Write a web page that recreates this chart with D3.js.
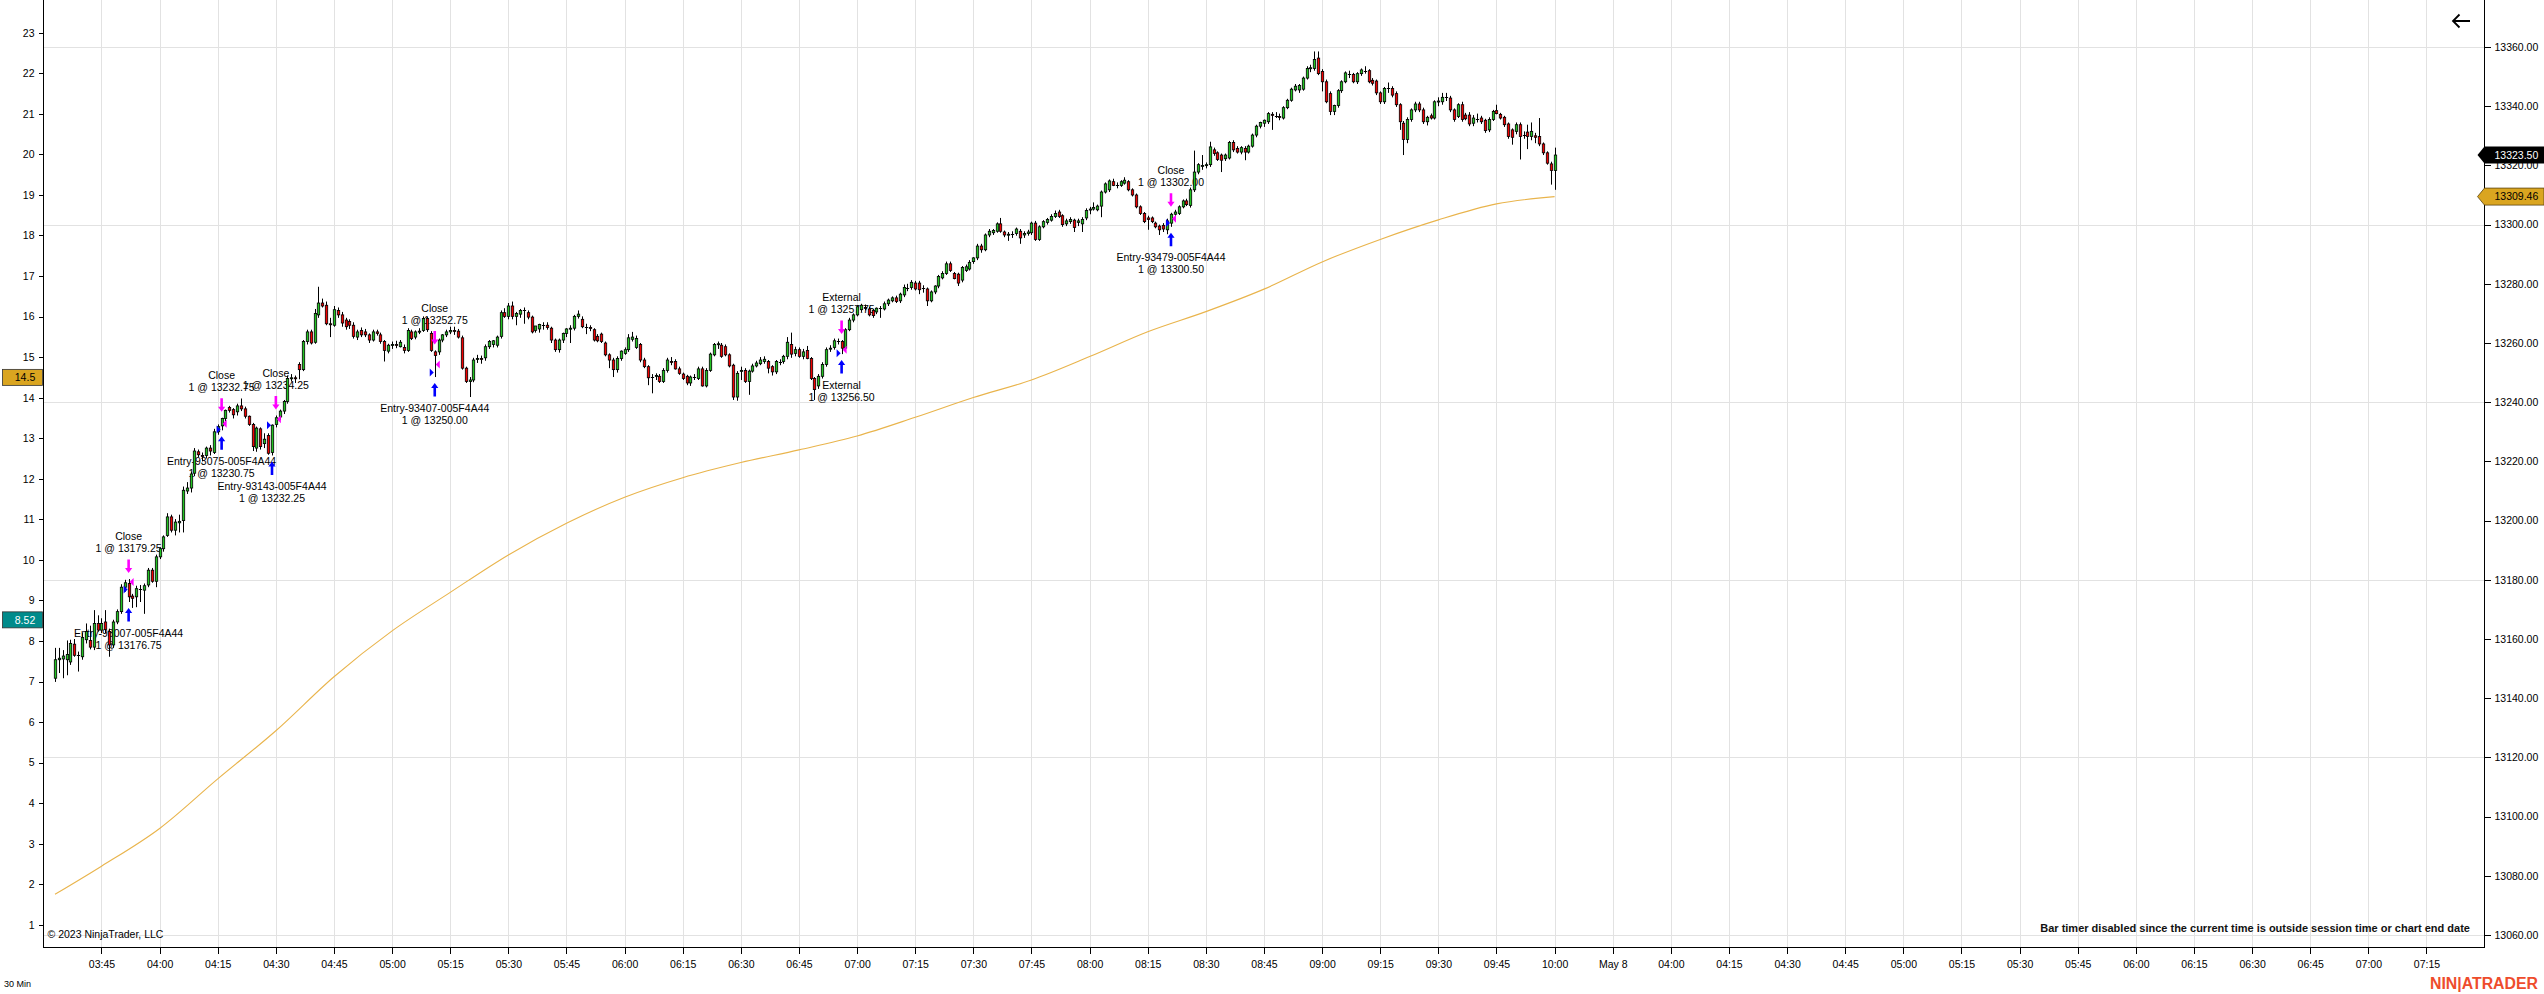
<!DOCTYPE html>
<html>
<head>
<meta charset="utf-8">
<script src="https://cdn.jsdelivr.net/npm/d3@7"></script>
<style>
  body { margin: 0; background: #fff; }
  svg { display: block; }
  text { font-family: "Liberation Sans", Arial, sans-serif; }
</style>
</head>
<body>
<svg id="chart" width="2544" height="994"></svg>
<script>
// ---- 1 minute bars, 03:33 .. 10:00 (one row = 15 bars) ----
const opens = [
  13146.75,13153,13153.25,13153,13152.25,13158.25,13154.5,13154,13159.75,13159.5,13157.25,13165.25,
  13163,13165.75,13162.5,13158,13165.75,13169.25,13177.5,13178.75,13174.5,13174.25,13177,13176.5,13178.25,13183.25,13179.5,
  13187.75,13190.5,13195,13201.25,13196.75,13199.25,13200,13210,13211,13216,13223.25,13222,13222,13224.5,13223,
  13230,13232,13234.5,13238.25,13237.5,13236.75,13238.75,13237.75,13235.25,13232.5,13224.5,13231,13226,13228.75,13223,
  13232.5,13235,13237,13240.25,13248,13248.25,13252.75,13251,13260.5,13263.75,13260.25,13269.5,13273.5,13272.75,13266.5,
  13266,13271,13269.5,13267.75,13267.25,13266,13262,13264.25,13263.75,13262.75,13261,13263.75,13262.75,13260.5,13257.25,
  13259.25,13259.5,13258.75,13258.5,13257.5,13263.75,13262,13263.75,13264.25,13268.25,13263.25,13257,13257,13261,13262.75,
  13263.75,13264.25,13264,13261.75,13251.5,13247,13247.5,13254.5,13254.75,13255,13258.75,13259.5,13259.25,13262.25,13270.25,
  13269,13272.5,13269,13269.75,13271,13270.25,13268.75,13264.25,13264.75,13266,13266,13265,13261,13257.75,13261,
  13263.25,13264.75,13265,13269,13268,13265.5,13265.25,13264.5,13262.25,13263,13260,13256,13254.25,13251,13254.75,
  13256.5,13257.75,13261.25,13258.5,13259.5,13254.25,13252,13248.5,13248.75,13248.75,13247,13250.75,13253.75,13253.75,13251.25,
  13249.5,13248.75,13246.5,13248.5,13248,13251.25,13245.5,13250.75,13256,13259.5,13259.25,13258.75,13256,13252.5,13241.75,
  13250.5,13250.75,13247,13250.5,13252.25,13253,13253.75,13253.75,13252,13250.25,13253.75,13253.75,13255.5,13259.5,13256.5,
  13257.75,13255.5,13257.5,13254.75,13248,13245.5,13248.75,13252.75,13258,13258.5,13260.75,13260.5,13258.25,13264.5,13267.75,
  13269.5,13271.25,13272,13271.5,13271,13270.5,13271.75,13271.5,13273.25,13274.25,13275.25,13274.25,13276.25,13278.75,13278.75,
  13280.25,13280.25,13278.5,13278.25,13274.25,13277.25,13279.25,13282,13283.5,13286.75,13283.5,13283.25,13281.25,13284.5,13285,
  13287.5,13288.75,13292.75,13291.5,13296.5,13297.25,13297.75,13300.25,13297.5,13296.5,13296.75,13297,13297.75,13296.5,13297,
  13297.25,13300.5,13295,13299.25,13300.75,13301.5,13302.75,13304.25,13303,13300.25,13301,13301.5,13300.75,13300.25,13302.25,
  13305,13305.25,13305,13306.25,13311,13311.75,13314.5,13313.5,13313.25,13314,13314.5,13311.75,13310,13306,13303.75,
  13302.25,13302.25,13300.5,13299.5,13299.75,13298.25,13300.5,13303.5,13303.75,13306,13308,13306.5,13311.75,13317.75,13319.75,
  13320,13320.25,13325.25,13324.25,13323.5,13322.25,13322.5,13327.75,13325.75,13324.5,13325.75,13324.5,13326.5,13330.25,13333.25,
  13334.25,13334.75,13337.25,13336.75,13336.5,13336,13339.5,13342,13345.5,13345.5,13345.75,13349.5,13352.75,13352.75,13356.25,
  13351.75,13348.25,13344.25,13338.25,13340.25,13345.25,13348.25,13351,13350.75,13348.25,13351,13352,13352,13348.75,13348.5,
  13344.5,13341.5,13346,13346,13344.25,13340.5,13334.25,13328.75,13335.5,13338.75,13340.75,13338.75,13334.75,13336.75,13336,
  13341.5,13341.5,13343,13342.75,13338.75,13336.5,13340.5,13337,13337,13334.25,13335.75,13336,13335.25,13332,13335.5,
  13338.5,13337.25,13336.25,13334,13332,13331.5,13333.75,13330.25,13331.25,13329.75,13330,13329.75,13327.25,13324.25,13320.5,
  13318.25
];
const highs = [
  13157,13157,13156.25,13159.5,13159.75,13160,13155.75,13162,13165.25,13164.5,13169.75,13168,
  13167,13169.75,13163.5,13166.5,13170,13178.5,13180,13180.25,13175.25,13178,13178.25,13178.75,13184,13184,13188.5,
  13191,13195,13202.5,13202,13200.5,13202,13211.5,13213,13216.5,13224.5,13224,13223,13225,13225.5,13231,
  13232.5,13234.75,13237.5,13238.75,13238,13239.5,13241.25,13238.5,13235.5,13233,13231.75,13231.5,13229.5,13229.5,13232.5,
  13235.5,13237.5,13240.75,13249,13249.5,13249,13253.5,13261,13264.5,13264.5,13271.5,13279,13275,13274,13268.5,
  13272.5,13272,13270.5,13268.5,13268,13267,13264.5,13265.25,13264.75,13263.25,13264.5,13264.5,13263.5,13261,13259.75,
  13260.5,13260.75,13261,13259.5,13265,13264.5,13264.25,13265,13269,13268.75,13264,13257.5,13261.5,13263,13264.5,
  13265.5,13265.5,13264.75,13262.5,13252,13248.5,13255,13256,13255.75,13259.5,13261,13261,13262.5,13271,13271.75,
  13273.5,13274,13270.5,13271.5,13272,13271,13269.25,13265.75,13266.5,13267,13267,13265.5,13261.5,13261.5,13263.5,
  13265,13266,13269.5,13271,13269,13266.5,13266,13265,13263,13263.5,13260.5,13256.5,13255,13255.5,13257.5,
  13258.5,13263,13263.75,13262.5,13260,13255,13252.5,13249.5,13249.75,13249.5,13251.5,13255,13255.25,13254.5,13252,
  13250,13249.25,13249,13249.5,13252,13252,13251.5,13256.75,13260,13260.5,13260,13259.5,13256.5,13253,13250.5,
  13252,13251.5,13251,13253,13254,13255.25,13255.5,13254.25,13252.5,13254.25,13254.5,13256,13262,13263.5,13258.75,
  13258.5,13258,13259,13255.25,13248.5,13249.5,13253.5,13258.5,13259.25,13261.5,13261.5,13261,13265,13268.5,13270,
  13272.75,13273.25,13273,13272.25,13271.5,13272,13272.5,13274,13275,13275.75,13276,13277,13279.75,13280,13281.25,
  13281,13281,13279.5,13278.75,13277.75,13279.5,13283,13284.25,13287.5,13287.5,13284,13283.75,13286,13286.5,13288,
  13289,13293.5,13293.5,13297,13298.5,13298.5,13300.75,13302.25,13298,13297.5,13297.75,13299,13298.5,13297.75,13298.25,
  13301,13301.25,13299.75,13301.5,13302.25,13303.5,13304.75,13305,13303.5,13302,13302.5,13302,13302,13302.5,13305.5,
  13306,13307.5,13306.75,13311.5,13314.25,13315.25,13315.5,13314.25,13315,13316,13315,13312.25,13310.5,13306.5,13304.25,
  13303,13302.75,13301,13300,13300.5,13302,13304,13305,13306.5,13308.5,13308.75,13312.5,13325,13320.75,13323.5,
  13321,13328,13326,13324.75,13324,13324,13328.25,13328.5,13326.5,13326.5,13326.5,13327,13330.75,13333.75,13334.75,
  13335.5,13338,13338,13338,13337.5,13340,13342.5,13346.25,13347.5,13347.5,13350,13353.5,13354,13358.5,13358.5,
  13352.5,13349,13345,13340.5,13345.75,13348.75,13351.75,13352,13351.25,13351.5,13352.75,13353.5,13352.5,13349.5,13349,
  13345,13346.5,13348,13346.75,13345,13341,13335,13336.25,13339.25,13341.5,13341.5,13339.5,13336.75,13337.5,13342,
  13343,13344.5,13344.5,13343.5,13339.25,13341,13341.5,13337.75,13338,13337,13337.5,13336.75,13335.75,13336.25,13338.75,
  13340.5,13337.75,13336.75,13334.5,13332.5,13334.5,13334.5,13331.5,13333.75,13334.5,13331,13336,13327.75,13324.75,13321.25,
  13326
];
const lows = [
  13145.5,13148.5,13146.75,13147.75,13151.25,13154,13149,13153,13158.5,13156.5,13156.25,13162.5,
  13162,13162,13154,13157,13165,13168.5,13176,13172.5,13170.5,13170.75,13172.5,13168.5,13177.5,13179,13177.5,
  13187,13189.5,13194.5,13196,13195,13196,13196,13209,13209.5,13215,13221.5,13220,13221,13222,13222.5,
  13229,13230.5,13233.5,13236.5,13234.5,13235.5,13237,13234.5,13232,13223.5,13223.25,13224,13224.5,13222.25,13222,
  13231.5,13234,13236,13239.5,13247,13246.5,13247.75,13250.5,13259.5,13259.5,13259.75,13268.5,13272,13266,13262,
  13265.5,13268.5,13265.5,13264.5,13264.75,13261.5,13261,13262,13262,13260,13260.5,13262.5,13259.75,13253.75,13256.5,
  13258,13258.25,13258.5,13256.5,13257,13261,13261.25,13263,13263.75,13263.75,13257,13248.5,13256,13260.25,13262,
  13263,13262.75,13261.5,13251,13246.5,13241.75,13246.75,13253.25,13253,13254,13258,13258.5,13258.5,13261.5,13268.5,
  13268,13268,13266,13268.5,13266.5,13268,13263.25,13263.5,13263.5,13264.5,13264.5,13260,13257,13256.75,13260,
  13262,13260,13264.25,13268.25,13265,13263,13264,13260.5,13260.25,13260,13255.5,13251.5,13248.5,13250,13254,
  13256,13257,13260.5,13258,13253.5,13251.5,13245.75,13243,13247.5,13246.5,13246.5,13250,13252.5,13251,13249.25,
  13247.5,13245.75,13245.5,13247.5,13247.5,13245.25,13245,13250.25,13255.5,13258,13255,13255.5,13251.75,13240.75,13240.5,
  13247.5,13246.5,13242.5,13250,13251.75,13252.5,13253,13249.75,13249,13249.5,13252.5,13253,13254.5,13255,13255.5,
  13255,13254.5,13254.5,13247.5,13240.75,13244.5,13248,13252,13257,13257.75,13259.5,13256.25,13257.75,13264,13267,
  13269,13270.5,13271,13269,13268.5,13269.75,13268.5,13271,13272.5,13273.75,13273.5,13273.5,13275.5,13277.5,13278,
  13277.75,13276.5,13277,13272.5,13273.75,13276.5,13278.5,13281.5,13283,13284,13281.5,13279.25,13280.5,13284,13284.5,
  13286.75,13288,13290.5,13291,13295.75,13296.5,13297.25,13297.25,13295.75,13294.5,13295.5,13296.25,13293.5,13295.5,13296.25,
  13296.5,13294.5,13294.5,13298.75,13300,13301,13302.25,13302.25,13299.25,13299.5,13300.25,13297.5,13299.5,13297.5,13301.5,
  13303.5,13304.75,13304.5,13302.5,13310.5,13311,13313,13312.25,13312.75,13313.5,13311.25,13309.5,13305.5,13303.25,13300.5,
  13298.25,13300.5,13298.75,13296.5,13297.5,13296.75,13299.25,13302,13303.25,13305.5,13306.25,13305.75,13311,13317,13318.5,
  13319,13319.5,13323.25,13321.5,13317.75,13321.5,13322,13324.5,13324,13323.75,13321.75,13324,13326,13329.5,13332.5,
  13333,13334,13332,13336,13335.25,13335.5,13339,13341.5,13345,13344.5,13345.25,13349,13351.5,13352,13350.5,
  13345,13341,13337,13337,13339.5,13344.5,13347.75,13349.5,13347.75,13347.5,13350.25,13351,13347.75,13347,13343.75,
  13340.75,13340.75,13344.5,13343,13339.75,13332,13323.5,13327.5,13334.75,13338,13338,13334,13333.5,13335.5,13335.5,
  13340,13340.5,13341.75,13338,13334.75,13336,13334.75,13335.25,13333.25,13333.25,13334.5,13334,13331,13331.25,13335,
  13337.25,13335.5,13333,13329,13327,13330.5,13322,13329,13325.5,13328.5,13327.5,13326.5,13323.5,13320.25,13313.5,
  13311.75
];
const closes = [
  13153,13153.5,13154.25,13154.75,13158.5,13154.5,13154.5,13160.5,13162.5,13157.25,13165.25,13163,
  13165.25,13163.25,13158,13165.75,13169.25,13177.5,13179,13174.25,13173.75,13177,13177,13178,13183.25,13179.5,13187.75,
  13190.5,13194.5,13201.25,13196.75,13199.5,13199.75,13210.25,13211,13215.75,13223.5,13222.25,13221.75,13224.5,13223.5,13230,
  13231.75,13234.5,13237.25,13237.25,13235.75,13238.75,13237.75,13235.25,13232.5,13225,13231.25,13225,13227.5,13222.75,13232.25,
  13234.75,13237,13240.25,13248,13248.25,13248,13251,13260.5,13263.75,13260,13270,13273.5,13272.5,13266.5,13266.25,
  13271.25,13269.5,13266.75,13265.5,13266,13262.25,13263.75,13262.75,13262.75,13261,13263.75,13263.25,13260.5,13257.5,13259.25,
  13259.5,13259.25,13260.25,13257.5,13264.25,13261.5,13263.75,13264,13268.25,13264.5,13257.5,13255.75,13261,13262.75,13263.75,
  13264.25,13264,13262,13251.5,13247,13247.5,13254.25,13254.75,13254.5,13258.75,13260.5,13260.75,13262,13270.25,13269,
  13272.5,13269,13270,13271,13271,13268.75,13263.75,13265.75,13266.25,13266,13265.25,13261,13257.75,13261,13263.25,
  13264.75,13265,13269,13269.75,13265.5,13265.5,13265,13261,13260.75,13260.5,13256,13254.25,13251,13254.75,13257.25,
  13257.75,13261.75,13262,13261.5,13254.25,13252,13248.25,13248.5,13249,13247,13250.75,13254.25,13253.5,13251.25,13249.75,
  13248,13246.5,13248.5,13248.5,13251.25,13245.5,13250.75,13256.25,13259.5,13259.75,13255.5,13256,13252.25,13241.75,13249.75,
  13250.75,13247,13250.5,13252.25,13253.25,13254.25,13254.5,13251.5,13250.25,13253.75,13253.75,13255.5,13260.25,13256.25,13257.75,
  13255.5,13257,13254.75,13248,13244.25,13248.75,13252.75,13257.75,13258.25,13260.75,13260.75,13258.25,13264.5,13267.75,13269.5,
  13272.25,13272.75,13271.75,13269.5,13269.25,13271.75,13271.75,13273.25,13274.5,13275.25,13274,13276.5,13278.75,13278.75,13280.5,
  13278.25,13278,13278.5,13274.25,13277.25,13279.25,13282.5,13283.5,13286.75,13284.5,13281.75,13280.25,13285.5,13285.75,13287.25,
  13288.75,13292.75,13291.5,13296.5,13297.75,13298,13300.25,13297.75,13296.5,13296.75,13296.75,13298.5,13295.5,13297,13297.5,
  13300.5,13295,13299.25,13301,13301.75,13302.75,13303.75,13302.75,13300,13301.25,13301.75,13299,13301.25,13301.75,13304.75,
  13305.25,13305.75,13306.25,13311,13313.75,13314.75,13313.25,13313.5,13314.5,13315,13311.75,13310,13306,13303.75,13301,
  13301.75,13301,13299.25,13298.25,13298.5,13301.25,13303.5,13304.25,13306,13308,13306.75,13311.75,13317.75,13320.25,13320,
  13320.25,13326.25,13324,13322,13321.75,13323.5,13327.75,13325.25,13324.5,13326,13324.5,13326.5,13330.25,13333.25,13334.5,
  13335.25,13337.5,13337,13336.75,13336.25,13339.5,13342,13345.75,13346.75,13347,13349.5,13352.75,13353,13355.75,13351,
  13348.25,13341.5,13338.25,13340.25,13345.25,13348.25,13351.25,13351,13348.25,13351,13352.25,13352,13348.25,13347.75,13344.5,
  13341.5,13346,13346,13343.75,13340.5,13334.75,13328.75,13335.5,13338.75,13340.75,13338.75,13334.75,13336.25,13336,13341.5,
  13341.75,13343,13343,13338.75,13335.5,13340.5,13335.5,13335.75,13334,13336,13335.75,13334.75,13331.75,13335.5,13338.25,
  13337.5,13336,13333.75,13329.75,13329.5,13333.75,13329.75,13330.25,13329.75,13331.5,13329.5,13327.25,13324.25,13320.75,13318.25,
  13323.5
];

// ---- moving average (bar slot -> value) ----
const emaSlots  = [0, 12, 27, 42, 57, 72, 87, 102, 117, 132, 147, 162, 177, 192, 207, 222, 237, 252, 267, 282, 297, 312, 327, 342, 357, 372, 387];
const emaValues = [13073.75, 13083.25, 13096, 13112.75, 13129, 13147.25, 13162.75, 13175.75, 13188.4, 13199.1, 13207.9, 13214.5, 13219.6,
                   13223.9, 13228.6, 13234.9, 13241.6, 13247.5, 13255.4, 13263.8, 13270.6, 13278.2, 13287.4, 13295, 13301.6, 13307, 13309.46];

// ---- time axis labels (every 15 slots, first at slot 12) ----
const timeLabels = ["03:45","04:00","04:15","04:30","04:45","05:00","05:15","05:30","05:45","06:00","06:15","06:30","06:45",
  "07:00","07:15","07:30","07:45","08:00","08:15","08:30","08:45","09:00","09:15","09:30","09:45","10:00",
  "May 8","04:00","04:15","04:30","04:45","05:00","05:15","05:30","05:45","06:00","06:15","06:30","06:45","07:00","07:15"];
const leftTicks  = d3.range(1, 24);
const priceTicks = d3.range(13060, 13361, 20);
const gridPrices = [13060, 13120, 13180, 13240, 13300, 13360];

// ---- executions ----
const entryBars   = [19, 43, 56, 98, 203, 288];
const entryNames  = ["Entry-93007-005F4A44", "Entry-93075-005F4A44", "Entry-93143-005F4A44", "Entry-93407-005F4A44", "External", "Entry-93479-005F4A44"];
const entryPrices = [13176.75, 13230.75, 13232.25, 13250.00, 13256.50, 13300.50];
const exitBars    = [19, 43, 57, 98, 203, 288];
const exitNames   = ["Close", "Close", "Close", "Close", "External", "Close"];
const exitPrices  = [13179.25, 13232.75, 13234.25, 13252.75, 13257.75, 13302.00];

const lastPrice = 13323.50;
const emaLast = 13309.46;
const leftMarkValues = [14.5, 8.52];
const leftMarkText = ["14.5", "8.52"];

// ================================
const svg = d3.select("#chart");
const axisLeftX = 43.5, axisRightX = 2484.5, axisBottomY = 947.5;
const fmt2 = d3.format(".2f");

var x = d3.scaleLinear().domain([0, 387]).range([55, 1554.6]);   // bar slot -> px
var yR = d3.scaleLinear().domain([13060, 13360]).range([935, 47]); // price
var yL = d3.scaleLinear().domain([1, 23]).range([924.8, 32.7]);    // indicator scale

const tickSlots = timeLabels.map((d, i) => 12 + 15 * i);
const px = i => Math.round(x(i)) + 0.5;

// grid
const grid = svg.append("g").attr("stroke", "#e2e2e2").attr("shape-rendering", "crispEdges");
grid.selectAll(".vg").data(tickSlots).enter().append("line")
  .attr("x1", d => px(d)).attr("x2", d => px(d))
  .attr("y1", 0).attr("y2", axisBottomY);
grid.selectAll(".hg").data(gridPrices).enter().append("line")
  .attr("x1", axisLeftX).attr("x2", axisRightX)
  .attr("y1", d => Math.round(yR(d)) + 0.5).attr("y2", d => Math.round(yR(d)) + 0.5);

// moving average
var emaLine = d3.line()
  .x((d, i) => x(emaSlots[i]))
  .y(d => yR(d))
  .curve(d3.curveMonotoneX);
svg.append("path")
  .datum(emaValues)
  .attr("d", emaLine)
  .attr("fill", "none")
  .attr("stroke", "#e9b44c")
  .attr("stroke-width", 1.1);

// arrow anchor helpers
const arrowGap = 6, arrowLen = 13.5;
const entryTop = i => yR(Math.min(lows[entryBars[i]], opens[entryBars[i]], closes[entryBars[i]])) + arrowGap;
const exitBottom = i => yR(Math.max(highs[exitBars[i]], opens[exitBars[i]], closes[exitBars[i]])) - arrowGap;

// execution labels (drawn under the candles)
const labels = svg.append("g").attr("font-size", "10.5px").attr("fill", "#000").attr("text-anchor", "middle");
entryBars.forEach((b, i) => {
  let yb = entryTop(i) + arrowLen;
  labels.append("text").attr("x", x(b)).attr("y", yb + 11.5).attr("dy", "0.35em").text(entryNames[i]);
  labels.append("text").attr("x", x(b)).attr("y", yb + 23.5).attr("dy", "0.35em").text("1 @ " + fmt2(entryPrices[i]));
});
exitBars.forEach((b, i) => {
  let yt = exitBottom(i) - arrowLen;
  labels.append("text").attr("x", x(b)).attr("y", yt - 23).attr("dy", "0.35em").text(exitNames[i]);
  labels.append("text").attr("x", x(b)).attr("y", yt - 11).attr("dy", "0.35em").text("1 @ " + fmt2(exitPrices[i]));
});

// candles
const candles = svg.append("g");
closes.forEach((c, i) => {
  let o = opens[i];
  let hi = Math.max(highs[i], o, c), lo = Math.min(lows[i], o, c);
  let cx = px(i);
  candles.append("line")
    .attr("x1", cx).attr("x2", cx)
    .attr("y1", yR(hi)).attr("y2", yR(lo))
    .attr("stroke", "#000").attr("stroke-width", 1);
  if (c === o) {
    candles.append("line")
      .attr("x1", cx - 1.6).attr("x2", cx + 1.6)
      .attr("y1", Math.round(yR(c)) + 0.5).attr("y2", Math.round(yR(c)) + 0.5)
      .attr("stroke", "#000").attr("stroke-width", 1);
  } else {
    let top = yR(Math.max(o, c)), bot = yR(Math.min(o, c));
    candles.append("rect")
      .attr("x", cx - 1.2).attr("width", 2.4)
      .attr("y", top).attr("height", Math.max(1, bot - top))
      .attr("fill", c > o ? "#22c322" : "#f00000")
      .attr("stroke", "#000").attr("stroke-width", 0.8);
  }
});

// arrows + fill triangles
const marks = svg.append("g");
const upArrow = "M0,0 L3.6,5 L1.3,5 L1.3,13.5 L-1.3,13.5 L-1.3,5 L-3.6,5 Z";
entryBars.forEach((b, i) => {
  marks.append("path").attr("d", upArrow)
    .attr("transform", `translate(${x(b)},${entryTop(i)})`)
    .attr("fill", "#0000ff");
  let ty = yR(entryPrices[i]), tx = x(b);
  marks.append("path")
    .attr("d", `M${tx - 5},${ty - 4} L${tx - 1},${ty} L${tx - 5},${ty + 4} Z`)
    .attr("fill", "#0000ff");
});
exitBars.forEach((b, i) => {
  marks.append("path").attr("d", upArrow)
    .attr("transform", `translate(${x(b)},${exitBottom(i)}) scale(1,-1)`)
    .attr("fill", "#ff00ff");
  let ty = yR(exitPrices[i]), tx = x(b);
  marks.append("path")
    .attr("d", `M${tx + 5},${ty - 4} L${tx + 1},${ty} L${tx + 5},${ty + 4} Z`)
    .attr("fill", "#ff00ff");
});

// ---- axes ----
const styleAxis = g => {
  g.select(".domain").remove();
  g.selectAll(".tick line").attr("stroke", "#000").attr("shape-rendering", "crispEdges");
  g.selectAll(".tick text").attr("fill", "#000").attr("font-size", "10.5px")
    .attr("font-family", '"Liberation Sans", Arial, sans-serif');
};

svg.append("g")
  .attr("transform", `translate(${axisLeftX},0)`)
  .call(d3.axisLeft(yL).tickValues(leftTicks).tickSize(5).tickPadding(4))
  .call(styleAxis);

svg.append("g")
  .attr("transform", `translate(${axisRightX},0)`)
  .call(d3.axisRight(yR).tickValues(priceTicks).tickFormat(fmt2).tickSize(6).tickPadding(4))
  .call(styleAxis);

svg.append("g")
  .attr("transform", `translate(0,${axisBottomY})`)
  .call(d3.axisBottom(x).tickValues(tickSlots).tickFormat((d, i) => timeLabels[i]).tickSize(6).tickPadding(7))
  .call(styleAxis);

// frame lines
const frame = svg.append("g").attr("stroke", "#000").attr("shape-rendering", "crispEdges");
frame.append("line").attr("x1", axisLeftX).attr("x2", axisLeftX).attr("y1", 0).attr("y2", axisBottomY);
frame.append("line").attr("x1", axisRightX).attr("x2", axisRightX).attr("y1", 0).attr("y2", axisBottomY);
frame.append("line").attr("x1", axisLeftX).attr("x2", axisRightX).attr("y1", axisBottomY).attr("y2", axisBottomY);

// price tags on the right axis
const tagPath = yc => `M${axisRightX - 7},${yc} L${axisRightX},${yc - 8.5} H2544 V${yc + 8.5} H${axisRightX} Z`;
svg.append("path").attr("d", tagPath(yR(emaLast))).attr("fill", "#daa520").attr("stroke", "#5a4410").attr("stroke-width", 0.8);
svg.append("text").attr("x", axisRightX + 10).attr("y", yR(emaLast)).attr("dy", "0.35em")
  .attr("font-size", "10.5px").attr("fill", "#000").text(fmt2(emaLast));
svg.append("path").attr("d", tagPath(yR(lastPrice))).attr("fill", "#000");
svg.append("text").attr("x", axisRightX + 10).attr("y", yR(lastPrice)).attr("dy", "0.35em")
  .attr("font-size", "10.5px").attr("fill", "#fff").text(fmt2(lastPrice));

// value boxes on the left axis
const leftFill = ["#daa520", "#008b8b"], leftInk = ["#000", "#fff"];
leftMarkValues.forEach((v, i) => {
  svg.append("rect").attr("x", 2.5).attr("y", yL(v) - 8).attr("width", 40).attr("height", 16)
    .attr("fill", leftFill[i]).attr("stroke", "#333").attr("stroke-width", 0.8);
  svg.append("text").attr("x", 25).attr("y", yL(v)).attr("dy", "0.35em").attr("text-anchor", "middle")
    .attr("font-size", "10.5px").attr("fill", leftInk[i]).text(leftMarkText[i]);
});

// back arrow top right
svg.append("path").attr("d", "M2470,21 H2453 M2459.5,14.5 L2453,21 L2459.5,27.5")
  .attr("fill", "none").attr("stroke", "#000").attr("stroke-width", 1.8);

// footer texts
svg.append("text").attr("x", 47.5).attr("y", 934).attr("dy", "0.35em")
  .attr("font-size", "10.5px").attr("fill", "#000").text("© 2023 NinjaTrader, LLC");
svg.append("text").attr("x", 2470).attr("y", 928).attr("dy", "0.35em").attr("text-anchor", "end")
  .attr("font-size", "11px").attr("font-weight", "bold").attr("fill", "#111")
  .text("Bar timer disabled since the current time is outside session time or chart end date");
svg.append("text").attr("x", 4).attr("y", 984).attr("dy", "0.35em")
  .attr("font-size", "9px").attr("fill", "#000").text("30 Min");
svg.append("text").attr("x", 2430).attr("y", 983).attr("dy", "0.36em")
  .attr("font-size", "16px").attr("font-weight", "bold").attr("fill", "#ee4c2c")
  .attr("textLength", 108).attr("lengthAdjust", "spacingAndGlyphs")
  .text("NIN|ATRADER");
</script>
</body>
</html>
